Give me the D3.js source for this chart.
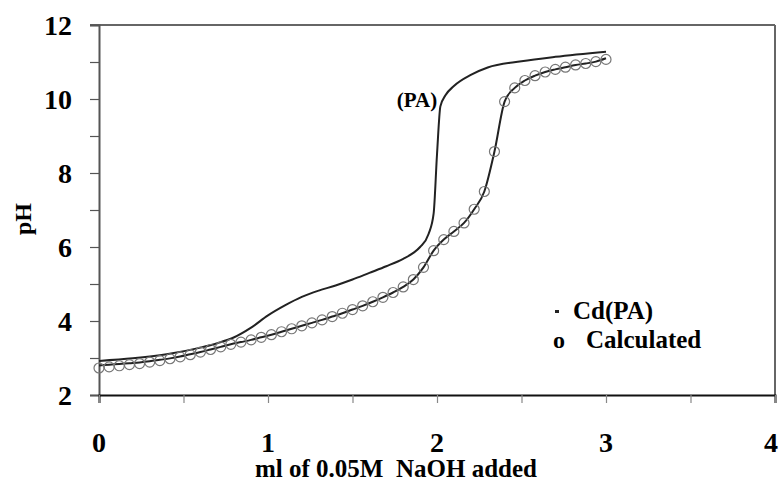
<!DOCTYPE html>
<html>
<head>
<meta charset="utf-8">
<script src="https://cdn.jsdelivr.net/npm/d3@7"></script>
<style>
body { margin: 0; background: #fff; }
svg text { font-family: "Liberation Serif", "Times New Roman", serif; font-weight: bold; }
</style>
</head>
<body>
<div id="chart"></div>
<script>
// PA titration curve
var paML = [0, 0.2, 0.4, 0.6, 0.7, 0.8, 0.9, 1.0, 1.1, 1.2, 1.3, 1.4, 1.5, 1.6, 1.7, 1.8, 1.86, 1.9, 1.95, 1.98, 2.0, 2.02, 2.05, 2.1, 2.2, 2.3, 2.5, 2.7, 3.0];
var paPH = [2.92, 2.99, 3.10, 3.28, 3.40, 3.56, 3.82, 4.15, 4.42, 4.65, 4.82, 4.96, 5.12, 5.30, 5.48, 5.68, 5.84, 6.00, 6.35, 6.90, 8.50, 9.80, 10.10, 10.35, 10.65, 10.85, 11.02, 11.14, 11.28];

// Cd(PA) curve and calculated points
var cdML = [0, 0.06, 0.12, 0.18, 0.24, 0.30, 0.36, 0.42, 0.48, 0.54, 0.60, 0.66, 0.72, 0.78, 0.84, 0.90, 0.96, 1.02, 1.08, 1.14, 1.20, 1.26, 1.32, 1.38, 1.44, 1.50, 1.56, 1.62, 1.68, 1.74, 1.80, 1.86, 1.92, 1.98, 2.04, 2.10, 2.16, 2.22, 2.28, 2.34, 2.40, 2.46, 2.52, 2.58, 2.64, 2.70, 2.76, 2.82, 2.88, 2.94, 3.00];
var cdPH = [2.80, 2.82, 2.84, 2.86, 2.88, 2.91, 2.95, 2.99, 3.04, 3.10, 3.16, 3.23, 3.30, 3.37, 3.43, 3.49, 3.56, 3.63, 3.71, 3.79, 3.87, 3.95, 4.03, 4.12, 4.21, 4.31, 4.41, 4.52, 4.64, 4.77, 4.92, 5.12, 5.45, 5.90, 6.20, 6.42, 6.65, 7.02, 7.50, 8.58, 9.93, 10.30, 10.50, 10.63, 10.73, 10.80, 10.86, 10.92, 10.96, 11.01, 11.10];
var calcPH = [2.73, 2.76, 2.79, 2.82, 2.85, 2.89, 2.93, 2.98, 3.03, 3.09, 3.16, 3.23, 3.30, 3.37, 3.43, 3.49, 3.56, 3.63, 3.71, 3.79, 3.87, 3.95, 4.03, 4.12, 4.21, 4.31, 4.41, 4.52, 4.64, 4.77, 4.92, 5.12, 5.45, 5.90, 6.20, 6.42, 6.65, 7.02, 7.50, 8.58, 9.93, 10.30, 10.50, 10.63, 10.73, 10.80, 10.86, 10.92, 10.96, 11.01, 11.07];

var xTicks = [0, 1, 2, 3, 4];
var yTicks = [2, 4, 6, 8, 10, 12];
var legendLabels = ["Cd(PA)", "Calculated"];

var W = 779, H = 484;
var margin = {left: 99, right: 4, top: 25, bottom: 89};

var svg = d3.select("#chart").append("svg")
  .attr("width", W).attr("height", H);

var x = d3.scaleLinear().domain([0, 4]).range([margin.left, W - margin.right]);
var y = d3.scaleLinear().domain([2, 12]).range([H - margin.bottom, margin.top]);

// frame (top + right)
svg.append("line")
  .attr("x1", x(0) - 9).attr("x2", x(4))
  .attr("y1", y(12)).attr("y2", y(12))
  .style("stroke", "#666").style("stroke-width", 2);
svg.append("line")
  .attr("x1", x(4)).attr("x2", x(4))
  .attr("y1", y(12)).attr("y2", y(2))
  .style("stroke", "#666").style("stroke-width", 2);

// y axis
var yAxis = svg.append("g")
  .attr("transform", "translate(" + x(0) + ",0)")
  .call(d3.axisLeft(y).tickValues(d3.range(2, 13, 1)).tickSize(9).tickFormat(""));
yAxis.select(".domain").style("stroke", "#555").style("stroke-width", 2);
yAxis.selectAll(".tick line").style("stroke", "#555").style("stroke-width", 1.2);

svg.selectAll(".ylab")
  .data(yTicks).enter().append("text")
  .attr("class", "ylab")
  .attr("x", 72).attr("y", d => y(d))
  .attr("dy", "0.35em")
  .attr("text-anchor", "end")
  .style("font-size", "28px")
  .text(d => d);

// x axis
var xAxis = svg.append("g")
  .attr("transform", "translate(0," + y(2) + ")")
  .call(d3.axisBottom(x).tickValues(d3.range(0, 4.01, 0.5)).tickSize(8).tickFormat(""));
xAxis.select(".domain").style("stroke", "#111").style("stroke-width", 2);
xAxis.selectAll(".tick line").style("stroke", "#888").style("stroke-width", 1.2);

svg.selectAll(".xlab")
  .data(xTicks).enter().append("text")
  .attr("class", "xlab")
  .attr("x", d => d == 4 ? W - 1 : x(d)).attr("y", 452)
  .attr("text-anchor", d => d == 4 ? "end" : "middle")
  .style("font-size", "28px")
  .text(d => d);

// axis titles
svg.append("text")
  .attr("x", 396).attr("y", 477)
  .attr("text-anchor", "middle")
  .style("font-size", "25px")
  .style("white-space", "pre")
  .text("ml of 0.05M  NaOH added");

svg.append("text")
  .attr("transform", "translate(31,219) rotate(-90)")
  .attr("text-anchor", "middle")
  .style("font-size", "24px")
  .text("pH");

// curves
var line = d3.line()
  .x(d => x(d[0])).y(d => y(d[1]))
  .curve(d3.curveMonotoneX);

svg.append("path")
  .datum(d3.zip(paML, paPH))
  .attr("d", line)
  .style("fill", "none").style("stroke", "#222").style("stroke-width", 2);

svg.append("path")
  .datum(d3.zip(cdML, cdPH))
  .attr("d", line)
  .style("fill", "none").style("stroke", "#222").style("stroke-width", 2);

svg.selectAll(".calc")
  .data(d3.zip(cdML, calcPH)).enter().append("circle")
  .attr("class", "calc")
  .attr("cx", d => x(d[0])).attr("cy", d => y(d[1]))
  .attr("r", 5)
  .style("fill", "none").style("stroke", "#777").style("stroke-width", 1.2);

// (PA) label
svg.append("text")
  .attr("x", 417).attr("y", 107)
  .attr("text-anchor", "middle")
  .style("font-size", "21px")
  .text("(PA)");

// legend
svg.append("rect")
  .attr("x", 555).attr("y", 310).attr("width", 4).attr("height", 3)
  .style("fill", "#222");
svg.append("text")
  .attr("x", 573).attr("y", 319)
  .style("font-size", "25px")
  .text(legendLabels[0]);
svg.append("text")
  .attr("x", 553).attr("y", 348)
  .style("font-size", "24px")
  .text("o");
svg.append("text")
  .attr("x", 586).attr("y", 348)
  .style("font-size", "25px")
  .text(legendLabels[1]);
</script>
</body>
</html>
